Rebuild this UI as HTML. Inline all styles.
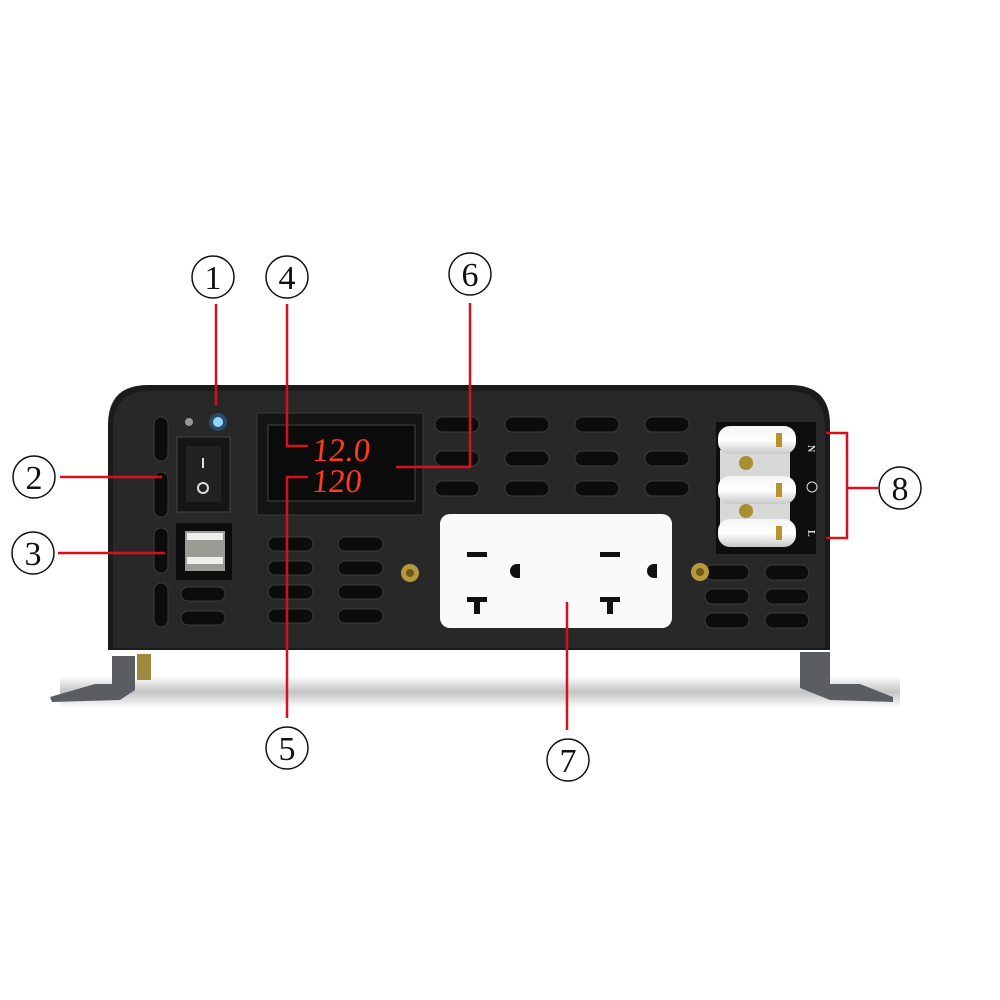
<!DOCTYPE html>
<html><head><meta charset="utf-8"><style>
html,body{margin:0;padding:0;background:#fff;}
svg{display:block}
text{font-family:"Liberation Serif","DejaVu Serif",serif;}
</style></head><body>
<svg width="1000" height="1000" viewBox="0 0 1000 1000" xmlns="http://www.w3.org/2000/svg">
<defs>
<linearGradient id="sh" x1="0" y1="0" x2="0" y2="1">
<stop offset="0" stop-color="#fff"/><stop offset="0.5" stop-color="#c4c4c4"/><stop offset="1" stop-color="#fff"/>
</linearGradient>
<linearGradient id="term" x1="0" y1="0" x2="0" y2="1">
<stop offset="0" stop-color="#f4f4f4"/><stop offset="0.5" stop-color="#fff"/><stop offset="1" stop-color="#c8c8c8"/>
</linearGradient>
</defs>
<rect x="60" y="676" width="840" height="32" fill="url(#sh)"/>
<path d="M50 697 L95 684 L112 684 L112 656 L135 656 L135 690 L120 700 L52 702 Z" fill="#5a5e62"/>
<path d="M893 697 L860 684 L830 684 L830 652 L800 652 L800 688 L830 700 L893 702 Z" fill="#5a5e62"/>
<rect x="137" y="654" width="14" height="26" fill="#a08a40"/>
<path d="M108 650 L108 425 Q108 385 148 385 L790 385 Q830 385 830 425 L830 650 Z" fill="#1b1b1b"/>
<path d="M113 648 L113 428 Q113 391 150 391 L788 391 Q825 391 825 428 L825 648 Z" fill="#282828"/>
<g fill="#0c0c0c" stroke="#3d3d3d" stroke-width="1">
<rect x="154" y="417" width="14" height="44" rx="7"/>
<rect x="154" y="472" width="14" height="45" rx="7"/>
<rect x="154" y="528" width="14" height="45" rx="7"/>
<rect x="154" y="583" width="14" height="44" rx="7"/>
</g>
<g fill="#0c0c0c" stroke="#3d3d3d" stroke-width="1">
<rect x="435" y="417" width="44" height="15" rx="7.5"/><rect x="505" y="417" width="44" height="15" rx="7.5"/><rect x="575" y="417" width="44" height="15" rx="7.5"/><rect x="645" y="417" width="44" height="15" rx="7.5"/>
<rect x="435" y="451" width="44" height="15" rx="7.5"/><rect x="505" y="451" width="44" height="15" rx="7.5"/><rect x="575" y="451" width="44" height="15" rx="7.5"/><rect x="645" y="451" width="44" height="15" rx="7.5"/>
<rect x="435" y="481" width="44" height="15" rx="7.5"/><rect x="505" y="481" width="44" height="15" rx="7.5"/><rect x="575" y="481" width="44" height="15" rx="7.5"/><rect x="645" y="481" width="44" height="15" rx="7.5"/>
<rect x="268" y="537" width="45" height="14" rx="7"/><rect x="338" y="537" width="45" height="14" rx="7"/>
<rect x="268" y="561" width="45" height="14" rx="7"/><rect x="338" y="561" width="45" height="14" rx="7"/>
<rect x="268" y="585" width="45" height="14" rx="7"/><rect x="338" y="585" width="45" height="14" rx="7"/>
<rect x="268" y="609" width="45" height="14" rx="7"/><rect x="338" y="609" width="45" height="14" rx="7"/>
<rect x="181" y="587" width="44" height="14" rx="7"/><rect x="181" y="611" width="44" height="14" rx="7"/>
<rect x="705" y="565" width="44" height="15" rx="7.5"/><rect x="765" y="565" width="44" height="15" rx="7.5"/>
<rect x="705" y="589" width="44" height="15" rx="7.5"/><rect x="765" y="589" width="44" height="15" rx="7.5"/>
<rect x="705" y="613" width="44" height="15" rx="7.5"/><rect x="765" y="613" width="44" height="15" rx="7.5"/>
</g>
<circle cx="189" cy="422" r="4" fill="#999"/>
<circle cx="218" cy="422" r="9" fill="#3aa0ff" opacity="0.3"/>
<circle cx="218" cy="422" r="5" fill="#8fd8ff"/>
<rect x="177" y="437" width="53" height="75" fill="#151515" stroke="#444"/>
<rect x="186" y="446" width="35" height="56" fill="#222"/>
<line x1="203" y1="458" x2="203" y2="468" stroke="#ddd" stroke-width="2"/>
<circle cx="203" cy="488" r="5" fill="none" stroke="#ddd" stroke-width="2"/>
<rect x="176" y="523" width="56" height="57" fill="#0d0d0d"/>
<rect x="185" y="531" width="40" height="40" fill="#9c9a94"/>
<rect x="187" y="533" width="36" height="7" fill="#eee"/>
<rect x="187" y="557" width="36" height="7" fill="#eee"/>
<rect x="257" y="413" width="166" height="102" fill="#151515" stroke="#3a3a3a"/>
<rect x="268" y="425" width="147" height="76" fill="#0b0b0b" stroke="#444"/>
<g font-family="Liberation Sans,sans-serif" font-size="33" fill="#ff3a1e">
<text x="312" y="461" transform="skewX(-6)" dx="48">12.0</text>
<text x="312" y="492" transform="skewX(-6)" dx="51">120</text>
</g>
<rect x="440" y="514" width="232" height="114" rx="10" fill="#fafafa"/>
<g fill="#111">
<rect x="467" y="552" width="20" height="5"/><rect x="600" y="552" width="20" height="5"/>
<rect x="467" y="597" width="20" height="5"/><rect x="474" y="597" width="6" height="17"/>
<rect x="600" y="597" width="20" height="5"/><rect x="607" y="597" width="6" height="17"/>
<path d="M520 564 h-3 a7 7 0 0 0 0 14 h3 z"/><path d="M657 564 h-3 a7 7 0 0 0 0 14 h3 z"/>
</g>
<circle cx="410" cy="573" r="9" fill="#b49a3c"/><circle cx="410" cy="573" r="4" fill="#6d5a1a"/>
<circle cx="700" cy="572" r="9" fill="#b49a3c"/><circle cx="700" cy="572" r="4" fill="#6d5a1a"/>
<rect x="716" y="422" width="100" height="132" fill="#0e0e0e"/>
<rect x="720" y="450" width="70" height="80" fill="#d8d8d8"/>
<rect x="718" y="426" width="78" height="28" rx="12" fill="url(#term)"/>
<rect x="718" y="476" width="78" height="28" rx="12" fill="url(#term)"/>
<rect x="718" y="519" width="78" height="28" rx="12" fill="url(#term)"/>
<rect x="776" y="433" width="6" height="14" fill="#b8922a"/>
<rect x="776" y="483" width="6" height="14" fill="#b8922a"/>
<rect x="776" y="526" width="6" height="14" fill="#b8922a"/>
<circle cx="746" cy="463" r="7" fill="#a89030"/><circle cx="746" cy="511" r="7" fill="#a89030"/>
<text x="808" y="445" font-family="Liberation Sans,sans-serif" font-size="10" font-weight="bold" fill="#ddd" transform="rotate(90 808 445)">N</text>
<circle cx="812" cy="487" r="5" fill="none" stroke="#ddd" stroke-width="1"/>
<text x="808" y="530" font-family="Liberation Sans,sans-serif" font-size="10" font-weight="bold" fill="#ddd" transform="rotate(90 808 530)">L</text>
<g stroke="#d8101c" stroke-width="2.5" fill="none">
<line x1="216" y1="304" x2="216" y2="405"/>
<polyline points="287,304 287,446 308,446"/>
<polyline points="470,303 470,467 396,467"/>
<line x1="60" y1="477" x2="162" y2="477"/>
<line x1="58" y1="553" x2="165" y2="553"/>
<polyline points="308,477 287,477 287,718"/>
<line x1="567" y1="730" x2="567" y2="602"/>
<polyline points="826,433 847,433 847,538 826,538"/>
<line x1="847" y1="488" x2="878" y2="488"/>
</g>
<g fill="none" stroke="#111" stroke-width="1.5">
<circle cx="213" cy="277" r="21"/><circle cx="287" cy="277" r="21"/><circle cx="470" cy="274" r="21"/>
<circle cx="34" cy="477" r="21"/><circle cx="33" cy="553" r="21"/><circle cx="900" cy="488" r="21"/>
<circle cx="287" cy="748" r="21"/><circle cx="568" cy="760" r="21"/>
</g>
<g font-size="34" fill="#111" text-anchor="middle">
<text x="213" y="289">1</text><text x="287" y="289">4</text><text x="470" y="286">6</text>
<text x="34" y="489">2</text><text x="33" y="565">3</text><text x="900" y="500">8</text>
<text x="287" y="760">5</text><text x="568" y="772">7</text>
</g>
</svg>
</body></html>
